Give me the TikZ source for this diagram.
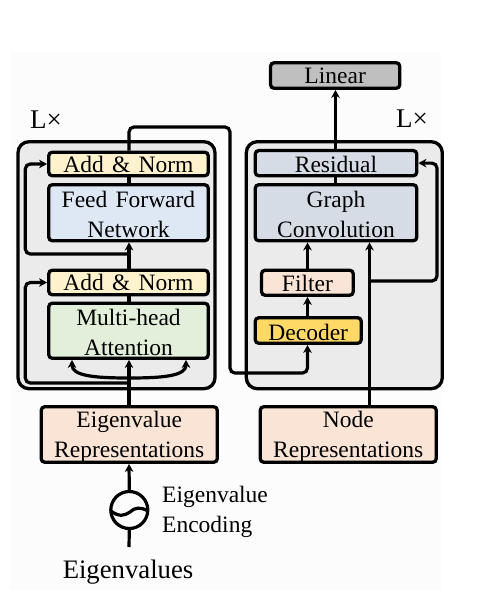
\documentclass[tikz,border=0pt]{standalone}
\usepackage{fontspec}
\setmainfont{Liberation Serif}
\newfontfamily\boxfont[WordSpace=1.4]{Liberation Serif}
\usetikzlibrary{arrows.meta,calc}
\definecolor{pagebg}{HTML}{FCFCFC}
\definecolor{panel}{HTML}{EBEBEB}
\definecolor{addnorm}{HTML}{FFF2CC}
\definecolor{ffn}{HTML}{DEE8F4}
\definecolor{mha}{HTML}{E2EFDA}
\definecolor{lin}{HTML}{BFBFBF}
\definecolor{slate}{HTML}{D6DCE5}
\definecolor{peach}{HTML}{FAE4D6}
\definecolor{dec}{HTML}{FFD966}
\tikzset{
  box/.style={draw=black,line width=3.3pt,rounded corners=3.5pt,inner sep=0pt},
  boxtext/.style={inner sep=0pt,align=center,font=\boxfont\fontsize{23.5}{30}\selectfont},
  panelbox/.style={draw=black,line width=3.3pt,rounded corners=11pt,fill=panel,inner sep=0pt},
  wire/.style={draw=black,line width=3.2pt},
  conn/.style={wire,-{Stealth[length=8pt,width=8.5pt,inset=2.5pt]}},
  caption/.style={inner sep=0pt,align=left,font=\fontsize{23.5}{30}\selectfont},
}
% #1 name, #2-#5 outer corners, #6 style, #7 text, #8 downward shift of the text
\newcommand\bx[8]{%
  \pgfmathsetmacro\bcx{(#2+#4)/2}\pgfmathsetmacro\bcy{(#3+#5)/2}%
  \pgfmathsetmacro\bw{#4-#2-2.5}\pgfmathsetmacro\bh{#5-#3-2.5}%
  \node[#6,minimum width=\bw pt,minimum height=\bh pt,
    label={[boxtext,yshift=-#8pt]center:{#7}}] (#1) at (\bcx,\bcy) {};}
\begin{document}
\begin{tikzpicture}[x=1pt,y=-1pt]
\useasboundingbox (0,0) rectangle (487,601);
\fill[pagebg] (10,52) rectangle (441,590);
\node[panelbox,minimum width=197pt,minimum height=247pt] (pl) at (116.5,265.2) {};
\node[panelbox,minimum width=196pt,minimum height=247pt] (pr) at (344.3,265.2) {};
\bx{an1}{47.5}{151}{209.5}{177}{box,fill=addnorm}{Add \& Norm}{0.6}
\bx{ffn}{47.5}{183.5}{209.5}{242}{box,fill=ffn}{Feed Forward\\Network}{1.5}
\bx{an2}{47.5}{269}{209.5}{296}{box,fill=addnorm}{Add \& Norm}{0.4}
\bx{mh}{47.5}{302}{209.5}{359.5}{box,fill=mha}{Multi-head\\Attention}{1.5}
\bx{linear}{269.3}{61.5}{401}{89.5}{box,fill=lin}{Linear}{0.5}
\bx{res}{254}{149.3}{418}{177}{box,fill=slate}{Residual}{1.2}
\bx{gc}{254}{183.5}{418}{242}{box,fill=slate}{Graph\\Convolution}{1.5}
\bx{filt}{260.3}{269}{354.5}{296.5}{box,fill=peach}{Filter}{0.5}
\bx{deco}{254}{316.5}{362.5}{344.5}{box,fill=dec}{Decoder}{1.5}
\bx{erep}{40}{405.5}{218.5}{463.5}{box,fill=peach}{Eigenvalue\\Representations}{2.5}
\bx{nrep}{259}{405.5}{437.5}{463.5}{box,fill=peach}{Node\\Representations}{2.5}
\node[draw=black,line width=3.2pt,circle,inner sep=0pt,minimum size=37pt] (enc) at (129.3,510) {};
\node[inner sep=0pt,font=\fontsize{27}{30}\selectfont] (lxa) at (46,120) {L×};
\node[inner sep=0pt,font=\fontsize{27}{30}\selectfont] (lxb) at (412,119) {L×};
\node[caption,anchor=west] (enctext) at (162,512) {Eigenvalue\\Encoding};
\node[inner sep=0pt,font=\fontsize{26.7}{30}\selectfont] (evals) at (128,572) {Eigenvalues};
\coordinate (sl) at (129,0);
\coordinate (sg) at (307.5,0);
\coordinate (sn) at (369.5,0);
\coordinate (st) at (335.5,0);
\coordinate (wl) at (25.3,0);
\coordinate (evend) at (129,547);
\coordinate (j1) at (129,383);
\coordinate (j2) at (129,254);
\coordinate (j3) at (129,378);
\coordinate (j4) at (369.5,281);
\coordinate (tl) at (72,0);
\coordinate (tr) at (186,0);
\coordinate (cl1) at (95,378);
\coordinate (cl2) at (72,376);
\coordinate (cr1) at (163,378);
\coordinate (cr2) at (186,376);
\coordinate (w1) at (111,511);
\coordinate (w1a) at (119,517);
\coordinate (w1b) at (124,516);
\coordinate (w2) at (130,512);
\coordinate (w2a) at (135,507);
\coordinate (w2b) at (141,507);
\coordinate (w3) at (148,511);
% encoder
\draw[wire] (enc.south) -- (evend);
\draw[wire] (w1) .. controls (w1a) and (w1b) .. (w2) .. controls (w2a) and (w2b) .. (w3);
\draw[conn] (enc.north) -- (erep.south -| sl);
\draw[conn] (erep.north -| sl) -- (mh.south -| sl);
\draw[conn] (j3) .. controls (cl1) and (cl2) .. (mh.south -| tl);
\draw[conn] (j3) .. controls (cr1) and (cr2) .. (mh.south -| tr);
\draw[conn,rounded corners=5pt] (j1) -- (j1 -| wl) -- (an2.west -| wl) -- (an2.west);
\draw[wire] (mh.north -| sl) -- (an2.south -| sl);
\draw[conn] (an2.north -| sl) -- (ffn.south -| sl);
\draw[conn,rounded corners=5pt] (j2) -- (j2 -| wl) -- (an1.west -| wl) -- (an1.west);
\draw[wire] (ffn.north -| sl) -- (an1.south -| sl);
% long connector to the decoder
\coordinate (wt) at (129,127);
\coordinate (wb) at (230,373);
\draw[conn,rounded corners=5pt] (an1.north -| sl) -- (wt) -- (wt -| wb) -- (wb) -- (wb -| sg) -- (deco.south -| sg);
% right side
\draw[conn] (deco.north -| sg) -- (filt.south -| sg);
\draw[conn] (filt.north -| sg) -- (gc.south -| sg);
\draw[conn] (nrep.north -| sn) -- (gc.south -| sn);
\coordinate (wr) at (437,0);
\draw[conn,rounded corners=5pt] (j4) -- (j4 -| wr) -- (res.east -| wr) -- (res.east);
\draw[wire] (gc.north -| st) -- (res.south -| st);
\draw[conn] (res.north -| st) -- (linear.south -| st);
\end{tikzpicture}
\end{document}
